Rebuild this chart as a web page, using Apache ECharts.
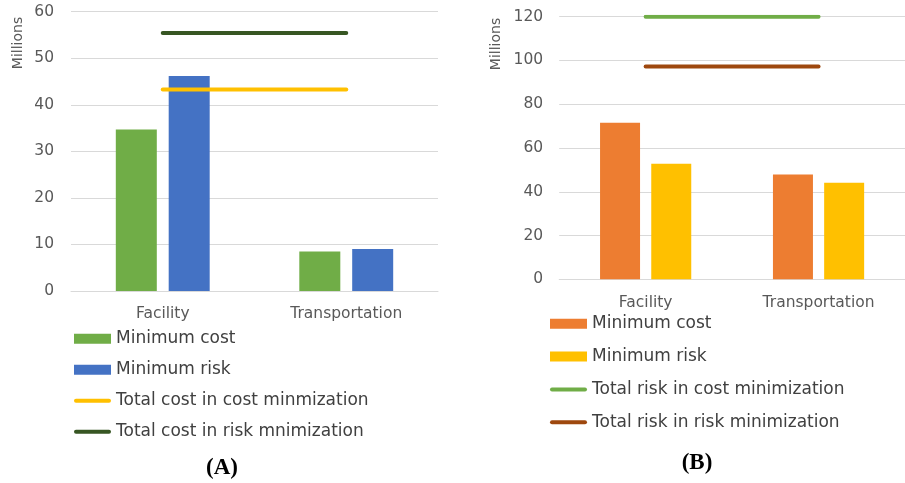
<!DOCTYPE html>
<html>
<head>
<meta charset="utf-8">
<script src="https://cdn.jsdelivr.net/npm/echarts@6/dist/echarts.min.js"></script>
<style>
html,body{margin:0;padding:0;background:#fff;}
#chart{width:905px;height:483px;}
</style>
</head>
<body>
<div id="chart"></div>
<script>
// ---- data ----
const categories = ['Facility', 'Transportation'];
const yTicksA = [0, 10, 20, 30, 40, 50, 60];
const yTicksB = [0, 20, 40, 60, 80, 100, 120];

const namesA = ['Minimum cost', 'Minimum risk', 'Total cost in cost minmization', 'Total cost in risk mnimization'];
const namesB = ['Minimum cost', 'Minimum risk', 'Total risk in cost minimization', 'Total risk in risk minimization'];

const aMinCost = [34.7, 8.5];
const aMinRisk = [46.2, 9.0];
const aTotalCostCostMin = [43.3, 43.3];
const aTotalCostRiskMin = [55.4, 55.4];

const bMinCost = [71.5, 47.9];
const bMinRisk = [52.8, 44.1];
const bTotalRiskCostMin = [120, 120];
const bTotalRiskRiskMin = [97.3, 97.3];

// ---- chart ----
const FONT = 'DejaVu Sans';
const tagA = n => n + ' (A)';
const tagB = n => n + ' (B)';
const strip = n => n.replace(/ \([AB]\)$/, '');
// thin rounded bar centred in a 37x10 box, used as legend icon for the line series
const LINE_ICON = 'path://M0,0 L0,0 M2,3 L35,3 A2,2 0 0 1 35,7 L2,7 A2,2 0 0 1 2,3 Z M37,10 L37,10';

function yAxis(gridIndex, ticks, labelMargin) {
  return {
    type: 'value', gridIndex,
    min: ticks[0], max: ticks[ticks.length - 1], interval: ticks[1] - ticks[0],
    axisLine: {show: false}, axisTick: {show: false},
    axisLabel: {color: '#595959', fontSize: 15.5, fontFamily: FONT, margin: labelMargin},
    splitLine: {lineStyle: {color: '#d9d9d9', width: 1}}
  };
}
function xAxis(gridIndex, margin) {
  return {
    type: 'category', gridIndex, data: categories,
    axisLine: {lineStyle: {color: '#d9d9d9', width: 1}}, axisTick: {show: false},
    axisLabel: {color: '#595959', fontSize: 15.5, fontFamily: FONT, margin}
  };
}
function bar(name, data, color, idx, width, gap) {
  return {type: 'bar', name, data, xAxisIndex: idx, yAxisIndex: idx, barWidth: width, barGap: gap,
    itemStyle: {color}, silent: true};
}
function line(name, data, color, idx) {
  return {type: 'line', name, data, xAxisIndex: idx, yAxisIndex: idx, symbol: 'none', z: 5,
    lineStyle: {color, width: 4, cap: 'round'}, itemStyle: {color}, silent: true};
}

const legendText = {color: '#404040', fontSize: 17, fontFamily: FONT, lineHeight: 20};

const option = {
  backgroundColor: '#ffffff',
  animation: false,
  grid: [
    {left: 71, top: 11.7, width: 367, height: 279.3},
    {left: 559.2, top: 16.7, width: 354, height: 262.6}
  ],
  xAxis: [xAxis(0, 15), xAxis(1, 16)],
  yAxis: [yAxis(0, yTicksA, 17), yAxis(1, yTicksB, 16)],
  series: [
    bar(tagA(namesA[0]), aMinCost, '#70AD47', 0, 41, '29%'),
    bar(tagA(namesA[1]), aMinRisk, '#4472C4', 0, 41, '29%'),
    line(tagA(namesA[2]), aTotalCostCostMin, '#FFC000', 0),
    line(tagA(namesA[3]), aTotalCostRiskMin, '#375623', 0),
    bar(tagB(namesB[0]), bMinCost, '#ED7D31', 1, 40, '28%'),
    bar(tagB(namesB[1]), bMinRisk, '#FFC000', 1, 40, '28%'),
    line(tagB(namesB[2]), bTotalRiskCostMin, '#70AD47', 1),
    line(tagB(namesB[3]), bTotalRiskRiskMin, '#9E480E', 1)
  ],
  legend: [
    {
      orient: 'vertical', left: 74, top: 328.7, padding: 0, itemGap: 11, itemWidth: 37, itemHeight: 10,
      selectedMode: false, formatter: strip, textStyle: legendText,
      data: [
        {name: tagA(namesA[0]), icon: 'rect'},
        {name: tagA(namesA[1]), icon: 'rect'},
        {name: tagA(namesA[2]), icon: LINE_ICON},
        {name: tagA(namesA[3]), icon: LINE_ICON}
      ]
    },
    {
      orient: 'vertical', left: 550, top: 313.8, padding: 0, itemGap: 12.8, itemWidth: 37, itemHeight: 10,
      selectedMode: false, formatter: strip, textStyle: legendText,
      data: [
        {name: tagB(namesB[0]), icon: 'rect'},
        {name: tagB(namesB[1]), icon: 'rect'},
        {name: tagB(namesB[2]), icon: LINE_ICON},
        {name: tagB(namesB[3]), icon: LINE_ICON}
      ]
    }
  ],
  title: [
    {text: '(A)', left: 222, top: 468, textAlign: 'center', textVerticalAlign: 'middle', padding: 0,
      textStyle: {fontFamily: 'Liberation Serif', fontWeight: 'bold', fontSize: 23, color: '#000'}},
    {text: '(B)', left: 697, top: 463, textAlign: 'center', textVerticalAlign: 'middle', padding: 0,
      textStyle: {fontFamily: 'Liberation Serif', fontWeight: 'bold', fontSize: 23, color: '#000'}}
  ],
  graphic: [
    {type: 'text', x: 18, y: 43, rotation: Math.PI / 2,
      style: {text: 'Millions', fill: '#595959', font: '14px "DejaVu Sans"', align: 'center', verticalAlign: 'middle'}},
    {type: 'text', x: 496, y: 44, rotation: Math.PI / 2,
      style: {text: 'Millions', fill: '#595959', font: '14px "DejaVu Sans"', align: 'center', verticalAlign: 'middle'}}
  ]
};

const chart = echarts.init(document.getElementById('chart'), null, {renderer: 'canvas'});
chart.setOption(option);
</script>
</body>
</html>
